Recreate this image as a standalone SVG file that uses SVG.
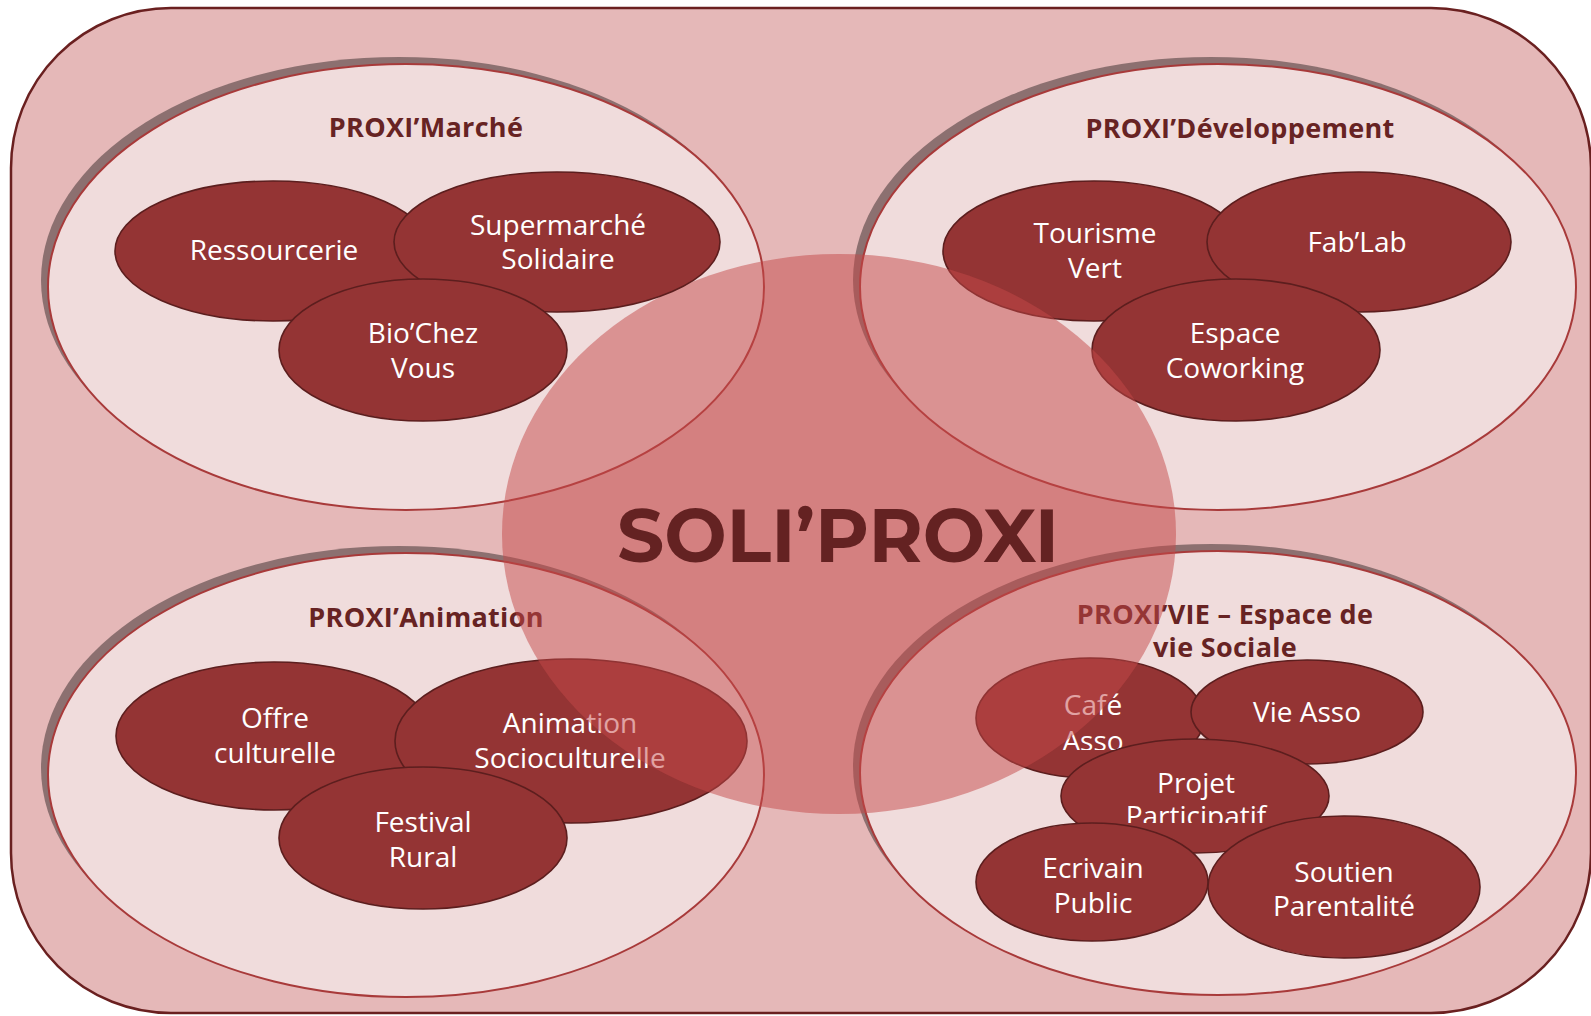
<svg xmlns="http://www.w3.org/2000/svg" width="1591" height="1016" viewBox="0 0 1591 1016">
<style>
.zone{fill:#F0DCDC;stroke:#A83A3A;stroke-width:2}
.shadow{fill:#8C7070}
.node{fill:#943434;stroke:#5C1E1E;stroke-width:1.6}
.nt{font-family:"Open Sans","Liberation Sans",sans-serif;font-size:28px;fill:#FFFFFF;text-anchor:middle}
.title{font-family:"Open Sans","Liberation Sans",sans-serif;font-size:27px;font-weight:bold;fill:#672323;text-anchor:middle;letter-spacing:0.3px}
</style>
<defs>
  <clipPath id="clip-projet"><rect x="1050" y="740" width="290" height="83"/></clipPath>
  <clipPath id="clip-cafe"><rect x="970" y="660" width="240" height="90"/></clipPath>
</defs>
<rect id="background" x="11" y="8" width="1580" height="1005" rx="160" ry="160" fill="#E5B8B8" stroke="#6A2020" stroke-width="2.5"/>

<g id="zones">
  <g id="zone-marche">
    <ellipse class="shadow" cx="399" cy="280" rx="358" ry="223"/>
    <ellipse class="zone" cx="406" cy="287" rx="358" ry="223"/>
  </g>
  <g id="zone-developpement">
    <ellipse class="shadow" cx="1211" cy="280" rx="358" ry="223"/>
    <ellipse class="zone" cx="1218" cy="287" rx="358" ry="223"/>
  </g>
  <g id="zone-animation">
    <ellipse class="shadow" cx="399" cy="768" rx="358" ry="222"/>
    <ellipse class="zone" cx="406" cy="775" rx="358" ry="222"/>
  </g>
  <g id="zone-vie">
    <ellipse class="shadow" cx="1211" cy="766" rx="358" ry="222"/>
    <ellipse class="zone" cx="1218" cy="773" rx="358" ry="222"/>
  </g>
</g>

<g id="group-developpement">
  <text class="title" x="1240" y="138">PROXI’Développement</text>
  <g id="tourisme-vert">
    <ellipse class="node" cx="1094" cy="251" rx="151" ry="70"/>
    <text class="nt" x="1095" y="243">Tourisme</text>
    <text class="nt" x="1095" y="278">Vert</text>
  </g>
  <g id="fablab">
    <ellipse class="node" cx="1359" cy="242" rx="152" ry="70"/>
    <text class="nt" x="1357" y="252">Fab’Lab</text>
  </g>
  <g id="espace-coworking">
    <ellipse class="node" cx="1236" cy="350" rx="144" ry="71"/>
    <text class="nt" x="1235" y="343">Espace</text>
    <text class="nt" x="1235" y="378">Coworking</text>
  </g>
</g>

<g id="group-animation">
  <text class="title" x="426" y="627">PROXI’Animation</text>
  <g id="offre-culturelle">
    <ellipse class="node" cx="274" cy="736" rx="158" ry="74"/>
    <text class="nt" x="275" y="728">Offre</text>
    <text class="nt" x="275" y="763">culturelle</text>
  </g>
  <g id="animation-socioculturelle">
    <ellipse class="node" cx="571" cy="741" rx="176" ry="82"/>
    <text class="nt" x="570" y="733">Animation</text>
    <text class="nt" x="570" y="768">Socioculturelle</text>
  </g>
  <g id="festival-rural">
    <ellipse class="node" cx="423" cy="838" rx="144" ry="71"/>
    <text class="nt" x="423" y="832">Festival</text>
    <text class="nt" x="423" y="867">Rural</text>
  </g>
</g>

<g id="group-vie">
  <text class="title" x="1225" y="624">PROXI’VIE – Espace de</text>
  <text class="title" x="1225" y="657">vie Sociale</text>
  <g id="cafe-asso">
    <ellipse class="node" cx="1090" cy="718" rx="114" ry="60"/>
    <g clip-path="url(#clip-cafe)">
      <text class="nt" x="1093" y="715">Café</text>
      <text class="nt" x="1093" y="751">Asso</text>
    </g>
  </g>
  <g id="vie-asso">
    <ellipse class="node" cx="1307" cy="712" rx="116" ry="52"/>
    <text class="nt" x="1307" y="722">Vie Asso</text>
  </g>
  <g id="projet-participatif">
    <ellipse class="node" cx="1195" cy="796" rx="134" ry="57"/>
    <g clip-path="url(#clip-projet)">
      <text class="nt" x="1196" y="793">Projet</text>
      <text class="nt" x="1196" y="826">Participatif</text>
    </g>
  </g>
  <g id="ecrivain-public">
    <ellipse class="node" cx="1092" cy="882" rx="116" ry="59"/>
    <text class="nt" x="1093" y="878">Ecrivain</text>
    <text class="nt" x="1093" y="913">Public</text>
  </g>
  <g id="soutien-parentalite">
    <ellipse class="node" cx="1344" cy="887" rx="136" ry="71"/>
    <text class="nt" x="1344" y="882">Soutien</text>
    <text class="nt" x="1344" y="916">Parentalité</text>
  </g>
</g>

<g id="soliproxi">
  <ellipse cx="839" cy="534" rx="337" ry="280" fill="#C34848" fill-opacity="0.5"/>
  <text x="838" y="562" font-family="Montserrat,'Open Sans','Liberation Sans',sans-serif" font-size="74" font-weight="bold" fill="#642222" text-anchor="middle">SOLI’PROXI</text>
</g>

<g id="group-marche">
  <text class="title" x="426" y="137">PROXI’Marché</text>
  <g id="ressourcerie">
    <ellipse class="node" cx="273" cy="251" rx="158" ry="70"/>
    <text class="nt" x="274" y="260">Ressourcerie</text>
  </g>
  <g id="supermarche-solidaire">
    <ellipse class="node" cx="557" cy="242" rx="163" ry="70"/>
    <text class="nt" x="558" y="235">Supermarché</text>
    <text class="nt" x="558" y="269">Solidaire</text>
  </g>
  <g id="biochez-vous">
    <ellipse class="node" cx="423" cy="350" rx="144" ry="71"/>
    <text class="nt" x="423" y="343">Bio’Chez</text>
    <text class="nt" x="423" y="378">Vous</text>
  </g>
</g>

<g id="connectors"/>
</svg>
